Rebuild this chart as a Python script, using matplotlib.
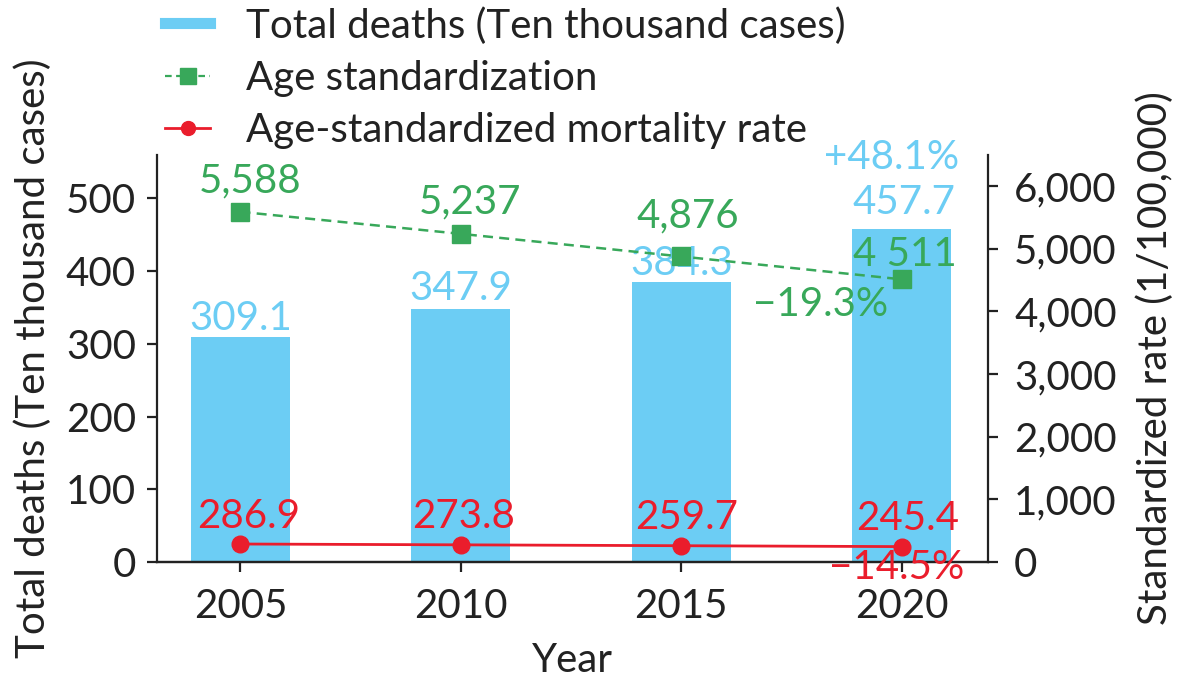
import matplotlib
matplotlib.use("Agg")
import matplotlib.pyplot as plt
from matplotlib.lines import Line2D

plt.rcParams['font.family'] = ['Lato', 'DejaVu Sans']

years = ["2005", "2010", "2015", "2020"]
total_deaths = [309.1, 347.9, 384.3, 457.7]
age_std = [5588, 5237, 4876, 4511]
age_std_labels = ["5,588", "5,237", "4,876", "4 511"]
mortality_rate = [286.9, 273.8, 259.7, 245.4]

BLUE = "#6ccdf4"
GREEN = "#38a85a"
RED = "#ea1d2c"
FS = 29

fig = plt.figure(figsize=(11.82, 6.91), dpi=100)
ax = fig.add_axes([0.1326, 0.1867, 0.703, 0.5894])
ax2 = ax.twinx()

x = list(range(len(years)))
bars = ax.bar(x, total_deaths, width=0.45, color=BLUE, zorder=1)
ax2.plot(x, age_std, color=GREEN, ls=(0, (4, 2.5)), lw=1.8, marker='s', ms=13, zorder=3)
ax2.plot(x, mortality_rate, color=RED, lw=2, marker='o', ms=12, zorder=3)

ax.set_xlim(-0.38, 3.39)
ax.set_ylim(0, 560)
ax2.set_ylim(0, 6500)
ax.set_xticks(x)
ax.set_xticklabels(years)
ax.set_yticks([0, 100, 200, 300, 400, 500])
ax2.set_yticks([0, 1000, 2000, 3000, 4000, 5000, 6000])
ax2.set_yticklabels(["0", "1,000", "2,000", "3,000", "4,000", "5,000", "6,000"])

for a in (ax, ax2):
    a.spines['top'].set_visible(False)
    for s in a.spines.values():
        s.set_linewidth(1.6)
        s.set_color("#222222")
    a.tick_params(labelsize=FS, length=7, width=1.6, color="#222222", labelcolor="#222222")
ax.spines['right'].set_visible(False)
ax2.spines['left'].set_visible(False)
ax.tick_params(axis='x', pad=12)
ax.tick_params(axis='y', pad=8)
ax2.tick_params(axis='y', pad=12)

ax.set_xlabel("Year", fontsize=FS, color="#222222", labelpad=12)
ax.set_ylabel("Total deaths (Ten thousand cases)", fontsize=FS, color="#222222", labelpad=10)
ax2.set_ylabel("Standardized rate (1/100,000)", fontsize=FS, color="#222222", labelpad=14)

def label(a, xv, yv, txt, dx, dy, color):
    a.annotate(txt, (xv, yv), xytext=(dx, dy), textcoords='offset pixels',
               ha='center', va='center', fontsize=FS, color=color, zorder=5)

# bar labels
blue_off = [(0, 19), (0, 20), (0, 19), (2, 27)]
for i, v in enumerate(total_deaths):
    label(ax, x[i], v, f"{v:.1f}", blue_off[i][0], blue_off[i][1], BLUE)
label(ax, x[3], total_deaths[3], "+48.1%", -10, 72, BLUE)

# green labels
green_off = [(10, 31), (9, 32), (6, 41), (3, 25)]
for i, v in enumerate(age_std):
    label(ax2, x[i], v, age_std_labels[i], green_off[i][0], green_off[i][1], GREEN)
label(ax2, x[3], age_std[3], "\u221219.3%", -81, -25, GREEN)

# red labels
red_off = [(8, 28), (3, 28), (5, 28), (6, 28)]
for i, v in enumerate(mortality_rate):
    label(ax2, x[i], v, f"{v:.1f}", red_off[i][0], red_off[i][1], RED)
label(ax2, x[3], mortality_rate[3], "\u221214.5%", -5, -21, RED)

handles = [
    Line2D([], [], color=BLUE, lw=8),
    Line2D([], [], color=GREEN, ls=(0, (3, 2)), lw=1.6, marker='s', ms=11),
    Line2D([], [], color=RED, lw=2, marker='o', ms=10),
]
names = ["Total deaths (Ten thousand cases)", "Age standardization",
         "Age-standardized mortality rate"]
fig.legend(handles, names, loc='upper left', bbox_to_anchor=(0.14, 0.99),
           borderaxespad=0.0, borderpad=0.0,
           frameon=False, fontsize=FS, handlelength=1.1, handletextpad=0.9,
           labelspacing=0.38, labelcolor="#222222")

fig.savefig("out.png", dpi=100)
